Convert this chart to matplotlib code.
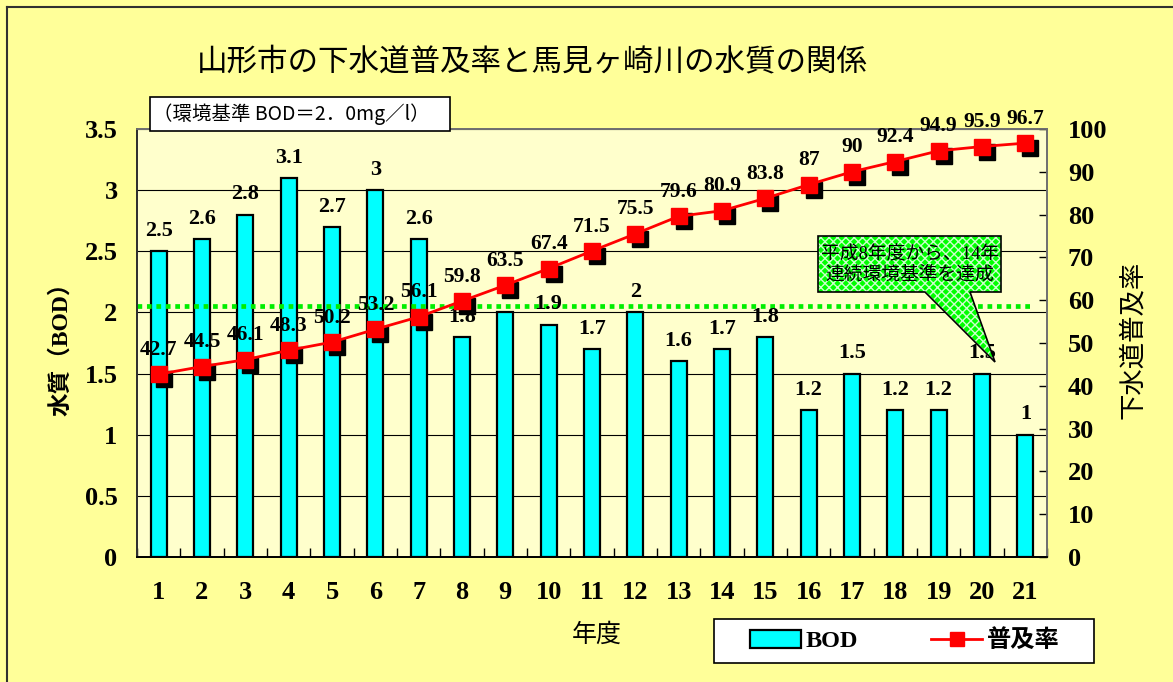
import matplotlib
matplotlib.use("Agg")
import matplotlib.pyplot as plt
import matplotlib.transforms as mtransforms
from matplotlib.patches import Polygon, Rectangle
from matplotlib.lines import Line2D
from matplotlib.patches import Patch
import numpy as np

# ---------------- data ----------------
years = list(range(1, 22))
year_labels = [str(y) for y in years]
bod = [2.5, 2.6, 2.8, 3.1, 2.7, 3.0, 2.6, 1.8, 2.0, 1.9, 1.7, 2.0, 1.6, 1.7, 1.8,
       1.2, 1.5, 1.2, 1.2, 1.5, 1.0]
bod_labels = ["2.5", "2.6", "2.8", "3.1", "2.7", "3", "2.6", "1.8", "2", "1.9", "1.7",
              "2", "1.6", "1.7", "1.8", "1.2", "1.5", "1.2", "1.2", "1.5", "1"]
rate = [42.7, 44.5, 46.1, 48.3, 50.2, 53.2, 56.1, 59.8, 63.5, 67.4, 71.5, 75.5, 79.6,
        80.9, 83.8, 87.0, 90.0, 92.4, 94.9, 95.9, 96.7]
rate_labels = ["42.7", "44.5", "46.1", "48.3", "50.2", "53.2", "56.1", "59.8", "63.5",
               "67.4", "71.5", "75.5", "79.6", "80.9", "83.8", "87", "90", "92.4",
               "94.9", "95.9", "96.7"]
standard_line = 2.05
bod_ticks = [0, 0.5, 1, 1.5, 2, 2.5, 3, 3.5]
bod_tick_labels = ["0", "0.5", "1", "1.5", "2", "2.5", "3", "3.5"]
rate_ticks = list(range(0, 101, 10))

title = "山形市の下水道普及率と馬見ヶ崎川の水質の関係"
note = "（環境基準 BOD＝2．0mg／l）"
callout = "平成8年度から、14年\n連続環境基準を達成"

# ---------------- style ----------------
NUM = {"family": ["Liberation Serif", "Noto Sans CJK JP"], "weight": "bold"}
JP = ["Noto Sans CJK JP", "DejaVu Sans"]
MIX = ["Liberation Serif", "Noto Sans CJK JP"]

W, H = 1173, 682
fig = plt.figure(figsize=(W / 100, H / 100), dpi=100, facecolor="#FFFF99")

def fx(px):
    return px / W

def fy(py):
    return 1 - py / H

ax = fig.add_axes([fx(137), fy(557), fx(1047) - fx(137), fy(129) - fy(557)])
ax.set_facecolor("#FFFFCC")
ax2 = ax.twinx()

x = np.array(years)
ax.bar(x, bod, width=0.37, color="#00FFFF", edgecolor="black", linewidth=1.6, zorder=3)
ax.set_xlim(0.5, 21.5)
ax.set_ylim(0, 3.5)
ax.set_yticks(bod_ticks)
ax.set_yticklabels(bod_tick_labels, fontdict=NUM, fontsize=19)
ax.tick_params(axis="y", length=0, pad=14)
ax.grid(axis="y", color="black", linewidth=0.8, zorder=1)
ax.set_axisbelow(True)

ax.set_xticks(x)
ax.set_xticklabels(year_labels, fontdict=NUM, fontsize=19)
ax.set_xticks(np.arange(0.5, 22, 1.0), minor=True)
ax.tick_params(axis="x", which="major", length=0, pad=17)
ax.tick_params(axis="x", which="minor", direction="in", length=6.5, width=1, color="black")

for xi, v, lab in zip(x, bod, bod_labels):
    ax.annotate(lab, (xi, v), xytext=(0, 11), textcoords="offset points",
                ha="center", va="baseline", fontsize=16, fontfamily=NUM["family"],
                fontweight="bold", zorder=6)

# standard line (green dotted)
ax.plot([0.5, 21.15], [standard_line, standard_line], color="#00EE00", linewidth=3.4,
        dashes=(1, 1), zorder=5, solid_capstyle="butt")

# secondary axis
ax2.set_ylim(0, 100)
ax2.set_yticks(rate_ticks)
ax2.set_yticklabels([str(t) for t in rate_ticks], fontdict=NUM, fontsize=19)
ax2.tick_params(axis="y", direction="in", length=6, width=1, pad=15)

shadow = ax2.transData + mtransforms.ScaledTranslation(5 / 100, -5 / 100, fig.dpi_scale_trans)
ax2.plot(x, rate, linestyle="none", marker="s", markersize=12, color="black",
         transform=shadow, zorder=2)
ax2.plot(x, rate, color="#FF0000", linewidth=2, marker="s", markersize=12,
         markerfacecolor="#FF0000", markeredgecolor="#FF0000", zorder=3)
for xi, v, lab in zip(x, rate, rate_labels):
    ax2.annotate(lab, (xi, v), xytext=(0, 14), textcoords="offset points",
                 ha="center", va="baseline", fontsize=15.5, fontfamily=NUM["family"],
                 fontweight="bold", zorder=4)

for a in (ax, ax2):
    a.spines["top"].set_color("#707070")
    a.spines["right"].set_color("#707070")
    a.spines["left"].set_color("#303030")
    a.spines["bottom"].set_color("black")
    for s in a.spines.values():
        s.set_linewidth(1.3)

# callout (axes fraction)
def axc(px, py):
    return ((px - 137) / 910, (557 - py) / 428)

pts = [axc(818, 236), axc(1001, 236), axc(1001, 292), axc(970, 292), axc(995, 362),
       axc(925, 292), axc(818, 292)]
plt.rcParams["hatch.linewidth"] = 1.0
ax2.add_patch(Polygon(pts, closed=True, transform=ax2.transAxes, facecolor="#00FF00",
                      edgecolor="#CCFFCC", hatch="xxxx", linewidth=0, zorder=10,
                      clip_on=False))
ax2.add_patch(Polygon(pts, closed=True, transform=ax2.transAxes, facecolor="none",
                      edgecolor="black", linewidth=1.2, zorder=11, clip_on=False))
cx, cy = axc(910, 265)
ax2.text(cx, cy, callout, transform=ax2.transAxes, ha="center", va="center",
         fontsize=13.5, family=MIX, linespacing=1.2, zorder=12)

# note box
fig.patches.append(Rectangle((fx(150), fy(131)), fx(450) - fx(150), fy(97) - fy(131),
                             transform=fig.transFigure, facecolor="white",
                             edgecolor="black", linewidth=1.2, zorder=5))
fig.text(fx(153), fy(114), note, ha="left", va="center", fontsize=14, family=JP, zorder=6)

# title and axis labels
fig.text(fx(532), fy(62), title, ha="center", va="center", fontsize=22, family=JP)
fig.text(fx(61), fy(343), "水質（BOD）", rotation=90, ha="center", va="center",
         fontsize=17, family=MIX, fontweight="bold")
fig.text(fx(1133), fy(340), "下水道普及率", rotation=90, ha="center", va="center",
         fontsize=19, family=JP)
fig.text(fx(597), fy(635), "年度", ha="center", va="center", fontsize=18, family=JP)

# legend
fig.patches.append(Rectangle((fx(714), fy(663)), fx(1094) - fx(714), fy(619) - fy(663),
                             transform=fig.transFigure, facecolor="white",
                             edgecolor="black", linewidth=1.2, zorder=5))
handles = [Patch(facecolor="#00FFFF", edgecolor="black", linewidth=1.6),
           Line2D([0], [0], color="#FF0000", linewidth=2, marker="s", markersize=10)]
leg = fig.legend(handles, ["BOD", "普及率"], loc="center",
                 bbox_to_anchor=(fx(905), fy(641)), ncol=2, frameon=False,
                 handlelength=2.1, handleheight=0.75, handletextpad=0.2,
                 columnspacing=3.0, prop={"family": MIX, "weight": "bold", "size": 17.5})
leg.set_zorder(6)

# outer border
fig.add_artist(Line2D([fx(7), fx(7)], [0, fy(7)], transform=fig.transFigure,
                      color="#303030", linewidth=1.5))
fig.add_artist(Line2D([fx(7), 1], [fy(7), fy(7)], transform=fig.transFigure,
                      color="#303030", linewidth=1.5))

fig.savefig("out.png", dpi=100, facecolor=fig.get_facecolor())
